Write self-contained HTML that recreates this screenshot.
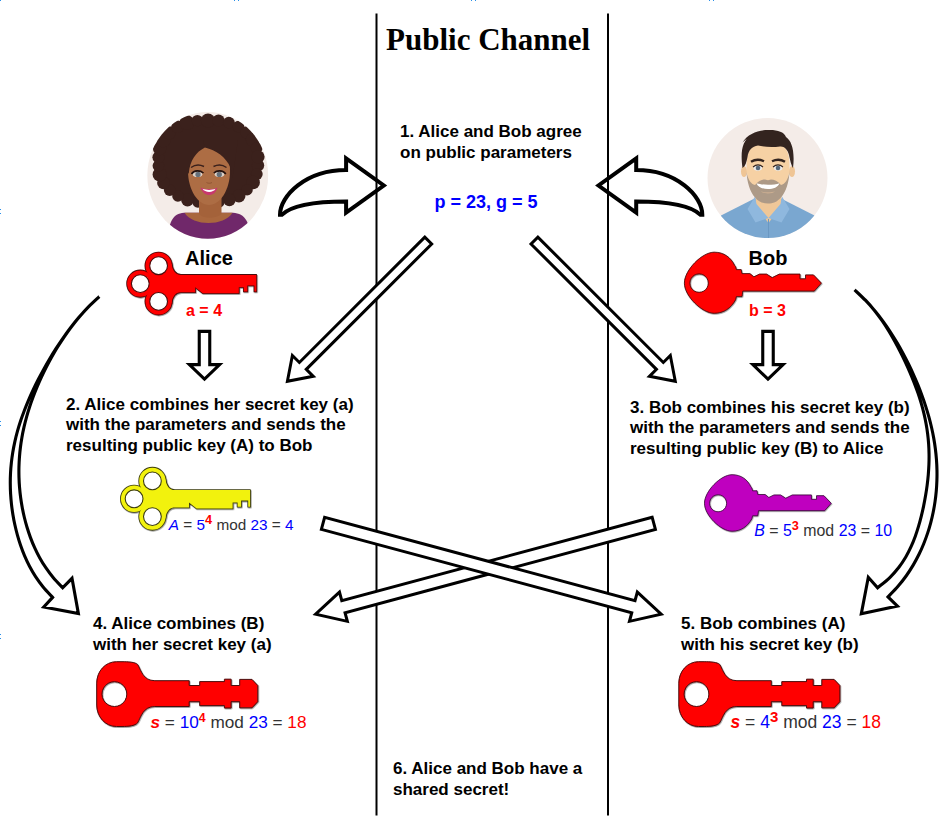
<!DOCTYPE html>
<html lang="en"><head><meta charset="utf-8"><title>Diffie-Hellman key exchange</title>
<style>html,body{margin:0;padding:0;background:#fff}svg{display:block}</style></head>
<body><svg width="944" height="828" viewBox="0 0 944 828">
<defs>
<filter id="sh" x="-10%" y="-10%" width="120%" height="130%"><feDropShadow dx="0.6" dy="0.8" stdDeviation="0.7" flood-color="#000" flood-opacity="0.45"/></filter>
</defs>
<rect width="944" height="828" fill="#fff"/>
<rect x="0" y="0" width="1" height="1" fill="#2b90e9"/><rect x="234" y="0" width="1" height="1" fill="#2b90e9"/><rect x="238" y="0" width="1" height="1" fill="#2b90e9"/><rect x="471" y="0" width="1" height="1" fill="#2b90e9"/><rect x="475" y="0" width="1" height="1" fill="#2b90e9"/><rect x="709" y="0" width="1" height="1" fill="#2b90e9"/><rect x="713" y="0" width="1" height="1" fill="#2b90e9"/><rect x="0" y="209" width="1" height="1" fill="#2b90e9"/><rect x="0" y="213" width="1" height="1" fill="#2b90e9"/><rect x="0" y="421" width="1" height="1" fill="#2b90e9"/><rect x="0" y="425" width="1" height="1" fill="#2b90e9"/><rect x="0" y="634" width="1" height="1" fill="#2b90e9"/><rect x="0" y="638" width="1" height="1" fill="#2b90e9"/>
<line x1="376.5" y1="13.4" x2="376.5" y2="815.5" stroke="#000" stroke-width="2"/>
<line x1="608" y1="13.4" x2="608" y2="815.5" stroke="#000" stroke-width="2"/>
<path d="M280.0,214.8 C280,196 305.5,170 346.1,170 L346.1,158.4 L383.8,185.5 L346.1,212.6 L346.1,201.4 C318,201.4 292,204.6 281.8,214.8 Z" fill="none" stroke="#000" stroke-width="4" stroke-linejoin="miter" stroke-miterlimit="10"/>
<path d="M702.3,214.8 C702.3,196 676.8,170 636.2,170 L636.2,158.4 L598.5,185.5 L636.2,212.6 L636.2,201.4 C664.3,201.4 690.3,204.6 700.5,214.8 Z" fill="none" stroke="#000" stroke-width="4" stroke-linejoin="miter" stroke-miterlimit="10"/>
<g fill="#fff" stroke="#000" stroke-linejoin="miter" stroke-miterlimit="10">
<polygon points="424.82,237.12 299.39,362.46 292.39,355.46 287.40,381.30 313.25,376.32 306.25,369.32 431.68,243.98" stroke-width="3.0"/>
<polygon points="531.02,243.98 656.45,369.32 649.45,376.32 675.30,381.30 670.31,355.46 663.31,362.46 537.88,237.12" stroke-width="3.0"/>
<polygon points="652.18,517.26 341.79,600.69 339.48,592.09 315.60,614.20 347.35,621.36 345.04,612.76 655.42,529.34" stroke-width="3.0"/>
<polygon points="321.38,529.34 631.76,612.76 629.45,621.36 661.20,614.20 637.32,592.09 635.01,600.69 324.62,517.26" stroke-width="3.0"/>
<polygon points="199.25,331.40 199.25,364.60 189.35,364.60 204.50,379.20 219.65,364.60 209.75,364.60 209.75,331.40" stroke-width="3.1"/>
<polygon points="762.75,331.40 762.75,364.60 752.85,364.60 768.00,379.20 783.15,364.60 773.25,364.60 773.25,331.40" stroke-width="3.1"/>
<path d="M99.29,296.6 C97.47,298.33 91.77,303.51 88.38,306.97 C84.99,310.43 81.90,313.88 78.93,317.34 C75.96,320.80 73.22,324.26 70.57,327.72 C67.92,331.18 65.44,334.63 63.03,338.09 C60.62,341.55 58.34,345.00 56.12,348.46 C53.90,351.92 51.78,355.37 49.72,358.83 C47.66,362.29 45.68,365.75 43.77,369.21 C41.86,372.67 40.01,376.12 38.24,379.58 C36.47,383.04 34.76,386.49 33.13,389.95 C31.50,393.41 29.94,396.86 28.46,400.32 C26.98,403.78 25.58,407.24 24.26,410.70 C22.94,414.16 21.70,417.61 20.56,421.07 C19.42,424.53 18.36,427.98 17.40,431.44 C16.44,434.90 15.58,438.35 14.81,441.81 C14.04,445.27 13.36,448.73 12.79,452.19 C12.22,455.65 11.75,459.10 11.37,462.56 C10.99,466.02 10.71,469.47 10.53,472.93 C10.35,476.39 10.27,479.84 10.28,483.30 C10.29,486.76 10.39,490.22 10.59,493.68 C10.79,497.14 11.08,500.59 11.46,504.05 C11.84,507.51 12.31,510.96 12.88,514.42 C13.45,517.88 14.10,521.33 14.86,524.79 C15.62,528.25 16.46,531.71 17.42,535.17 C18.38,538.63 19.44,542.08 20.64,545.54 C21.84,549.00 23.13,552.45 24.61,555.91 C26.09,559.37 27.68,562.82 29.51,566.28 C31.34,569.74 33.30,573.20 35.57,576.66 C37.84,580.12 40.29,583.57 43.13,587.03 C45.97,590.49 51.03,595.67 52.61,597.40 L43.8,606.9 L78.4,613.6 L72.0,578.3 L62.64,587.8 C61.09,586.13 56.15,581.11 53.34,577.76 C50.53,574.41 48.08,571.07 45.80,567.72 C43.52,564.37 41.52,561.03 39.65,557.68 C37.78,554.33 36.14,550.98 34.61,547.63 C33.08,544.28 31.73,540.94 30.48,537.59 C29.23,534.24 28.12,530.90 27.10,527.55 C26.08,524.20 25.18,520.86 24.37,517.51 C23.56,514.16 22.85,510.82 22.23,507.47 C21.61,504.12 21.08,500.78 20.63,497.43 C20.18,494.08 19.82,490.74 19.55,487.39 C19.28,484.04 19.09,480.69 18.99,477.34 C18.89,473.99 18.88,470.65 18.95,467.30 C19.02,463.95 19.18,460.61 19.43,457.26 C19.68,453.91 20.01,450.57 20.43,447.22 C20.85,443.87 21.36,440.53 21.95,437.18 C22.54,433.83 23.22,430.49 23.99,427.14 C24.75,423.79 25.61,420.45 26.54,417.10 C27.47,413.75 28.50,410.41 29.59,407.06 C30.68,403.71 31.86,400.36 33.11,397.01 C34.36,393.66 35.69,390.32 37.10,386.97 C38.51,383.62 39.99,380.28 41.55,376.93 C43.11,373.58 44.74,370.24 46.46,366.89 C48.18,363.54 49.96,360.20 51.84,356.85 C53.72,353.50 55.68,350.16 57.74,346.81 C59.80,343.46 61.95,340.12 64.23,336.77 C66.51,333.42 68.88,330.07 71.43,326.72 C73.98,323.37 76.63,320.03 79.51,316.68 C82.39,313.33 85.39,309.99 88.69,306.64 C91.99,303.29 97.53,298.27 99.30,296.60" stroke-width="3.1"/>
<path d="M854.63,289.9 C856.46,291.66 862.19,296.96 865.59,300.49 C868.99,304.02 872.08,307.54 875.02,311.07 C877.96,314.60 880.66,318.13 883.25,321.66 C885.84,325.19 888.24,328.71 890.55,332.24 C892.86,335.77 895.02,339.30 897.11,342.83 C899.20,346.36 901.17,349.89 903.07,353.42 C904.97,356.95 906.77,360.47 908.50,364.00 C910.23,367.53 911.88,371.06 913.46,374.59 C915.04,378.12 916.56,381.65 917.99,385.18 C919.42,388.71 920.78,392.23 922.07,395.76 C923.36,399.29 924.58,402.82 925.71,406.35 C926.84,409.88 927.90,413.40 928.87,416.93 C929.84,420.46 930.74,423.99 931.55,427.52 C932.36,431.05 933.09,434.58 933.72,438.11 C934.35,441.64 934.90,445.16 935.35,448.69 C935.80,452.22 936.17,455.75 936.44,459.28 C936.71,462.81 936.88,466.34 936.96,469.87 C937.04,473.40 937.02,476.92 936.90,480.45 C936.78,483.98 936.57,487.51 936.26,491.04 C935.95,494.57 935.54,498.09 935.03,501.62 C934.52,505.15 933.90,508.68 933.18,512.21 C932.46,515.74 931.64,519.27 930.70,522.80 C929.76,526.33 928.72,529.85 927.54,533.38 C926.36,536.91 925.07,540.44 923.63,543.97 C922.19,547.50 920.63,551.03 918.89,554.56 C917.15,558.09 915.27,561.61 913.17,565.14 C911.07,568.67 908.82,572.20 906.30,575.73 C903.77,579.26 901.06,582.78 898.02,586.31 C894.98,589.84 889.69,595.13 888.03,596.90 L897.4,606.1 L861.3,613.7 L868.3,577.3 L877.62,587.8 C879.65,586.09 886.26,580.95 889.81,577.53 C893.36,574.11 896.25,570.68 898.91,567.26 C901.57,563.84 903.75,560.40 905.78,556.98 C907.80,553.56 909.49,550.13 911.06,546.71 C912.63,543.29 913.97,539.86 915.22,536.44 C916.47,533.02 917.56,529.60 918.58,526.17 C919.61,522.74 920.52,519.31 921.37,515.89 C922.22,512.47 922.99,509.04 923.70,505.62 C924.41,502.20 925.04,498.77 925.62,495.35 C926.20,491.93 926.72,488.50 927.16,485.08 C927.60,481.65 927.98,478.23 928.27,474.80 C928.56,471.38 928.78,467.95 928.91,464.53 C929.04,461.11 929.10,457.68 929.05,454.26 C929.00,450.84 928.87,447.42 928.63,443.99 C928.39,440.56 928.06,437.13 927.63,433.71 C927.20,430.28 926.67,426.86 926.04,423.44 C925.41,420.02 924.67,416.59 923.85,413.17 C923.03,409.75 922.11,406.32 921.10,402.90 C920.09,399.47 918.99,396.05 917.81,392.62 C916.63,389.19 915.37,385.77 914.04,382.35 C912.71,378.93 911.29,375.50 909.82,372.08 C908.35,368.66 906.81,365.24 905.20,361.81 C903.59,358.38 901.92,354.95 900.17,351.53 C898.42,348.10 896.62,344.68 894.72,341.26 C892.82,337.84 890.86,334.41 888.75,330.99 C886.64,327.57 884.47,324.15 882.09,320.72 C879.71,317.30 877.24,313.87 874.47,310.44 C871.70,307.01 868.80,303.59 865.48,300.17 C862.16,296.75 856.39,291.61 854.57,289.90" stroke-width="3.1"/>
</g>

<g>
<clipPath id="ca"><ellipse cx="207.75" cy="175.4" rx="60.4" ry="63.3"/></clipPath>
<ellipse cx="207.75" cy="175.4" rx="60.4" ry="63.3" fill="#f4ece8"/>
<g clip-path="url(#ca)">
 <g fill="#3b211c"><ellipse cx="208.2" cy="161.3" rx="50.6" ry="41.8"/><circle cx="258.0" cy="165.4" r="6.2"/><circle cx="256.8" cy="174.1" r="5.9"/><circle cx="253.1" cy="182.4" r="6.8"/><circle cx="247.1" cy="189.8" r="5.7"/><circle cx="238.9" cy="195.8" r="6.6"/><circle cx="229.4" cy="199.9" r="6.3"/><circle cx="219.0" cy="202.0" r="5.7"/><circle cx="208.4" cy="202.1" r="6.5"/><circle cx="197.9" cy="202.0" r="5.7"/><circle cx="187.5" cy="200.0" r="6.4"/><circle cx="177.9" cy="196.0" r="5.7"/><circle cx="169.7" cy="190.1" r="5.8"/><circle cx="163.5" cy="182.8" r="6.4"/><circle cx="159.7" cy="174.5" r="7.1"/><circle cx="158.4" cy="165.8" r="5.8"/><circle cx="158.4" cy="157.2" r="6.0"/><circle cx="159.6" cy="148.5" r="6.7"/><circle cx="163.3" cy="140.2" r="7.3"/><circle cx="169.3" cy="132.8" r="6.6"/><circle cx="177.5" cy="126.8" r="6.3"/><circle cx="187.0" cy="122.7" r="7.4"/><circle cx="197.4" cy="120.6" r="5.7"/><circle cx="208.0" cy="120.5" r="7.1"/><circle cx="218.5" cy="120.6" r="6.1"/><circle cx="228.9" cy="122.6" r="5.9"/><circle cx="238.5" cy="126.6" r="5.8"/><circle cx="246.7" cy="132.5" r="6.2"/><circle cx="252.9" cy="139.8" r="7.1"/><circle cx="256.7" cy="148.1" r="5.9"/><circle cx="258.0" cy="156.8" r="6.6"/></g>
 <path d="M168,242 C168,224 172,213.500 184,212.800 L233,212.800 C246,213.500 250.500,224 250.500,242 Z" fill="#70286a"/>
 <path d="M184.500,212.800 C193,226.500 224,226.500 232.500,212.800 Z" fill="#a9673e"/>
 <path d="M199,196 L199,214 C203,219 216,219 221.500,214 L221.500,196 Z" fill="#a4623a"/>
 <path d="M188,171 C188,152 196,144 209,144 C222,144 230,152 230,171 C230,190 220,205 209,205 C198,205 188,190 188,171 Z" fill="#ad6d44"/>
 <path d="M184,178 L184,140 L206,140 L204.900,147.400 C196,152 190,160 188.800,173 Z" fill="#3b211c"/>
 <path d="M204.900,147.400 C216,150 226,157 230.500,167.500 L232.500,178 L238,140 L203,140 Z" fill="#3b211c"/>
 <ellipse cx="197.500" cy="174.300" rx="4.800" ry="2.800" fill="#ddd3ca"/><ellipse cx="219.500" cy="174.300" rx="4.800" ry="2.800" fill="#ddd3ca"/>
 <circle cx="198" cy="174.400" r="2.600" fill="#66707a"/><circle cx="219.300" cy="174.400" r="2.600" fill="#66707a"/>
 <path d="M191.500,174 C194,170 200,170 203.500,173" stroke="#24110e" stroke-width="1.600" fill="none"/>
 <path d="M213.800,173 C217,170 223,170 225.800,174" stroke="#24110e" stroke-width="1.600" fill="none"/>
 <path d="M191,167.500 C195,164.500 200,164.500 204,166.500" stroke="#3b211c" stroke-width="1.400" fill="none"/>
 <path d="M213.500,166.500 C217.500,164.500 222.500,164.500 226.500,167.500" stroke="#3b211c" stroke-width="1.400" fill="none"/>
 <path d="M200.500,187.500 C205,189.500 213,189.500 217.500,187.500 C215,197.500 203.500,197.500 200.500,187.500 Z" fill="#c8386e"/>
 <path d="M202.500,188.800 C206,190.300 212,190.300 215.500,188.800 C213.500,193 205,193 202.500,188.800 Z" fill="#ffffff"/>
 <path d="M206.500,182.500 C208,183.500 210.500,183.500 212,182.500" stroke="#8a5030" stroke-width="0.800" fill="none"/>
</g>
</g>

<g>
<clipPath id="cb"><circle cx="767.5" cy="178" r="60"/></clipPath>
<circle cx="767.5" cy="178" r="60" fill="#f4ece8"/>
<g clip-path="url(#cb)">
 <path d="M718,240 L721,215.500 L754.500,198.500 L781,198.500 L814.500,215.500 L818,240 Z" fill="#7aa7d0"/>
 <path d="M755.500,194 L755.500,206 L768.500,223 L781.500,206 L781.500,194 Z" fill="#efc798"/>
 <path d="M755,196.500 L747.500,209 L755.500,222.500 L768.500,218 L756.500,204 Z" fill="#8fb8de"/>
 <path d="M782,196.500 L789.500,209 L781.500,222.500 L768.500,218 L780.500,204 Z" fill="#8fb8de"/>
 <path d="M768.500,219 L768.500,240" stroke="#6b98c2" stroke-width="1"/>
 <ellipse cx="744" cy="171.500" rx="3" ry="5.500" fill="#efc595"/><ellipse cx="792" cy="171.500" rx="3" ry="5.500" fill="#efc595"/>
 <path d="M746.500,165 C746.500,150 752,141 768,141 C784,141 789.500,150 789.500,165 C789.500,183 782,203 768,203 C754,203 746.500,183 746.500,165 Z" fill="#f6d1a4"/>
 <path d="M746.500,172 C747,182 750,192 755,197.500 C759,202 763,203.500 768,203.500 C773,203.500 777,202 781,197.500 C786,192 789,182 789.500,172 C788,180 785,184 781,185 C778,181 774,179.500 771,179.500 L768,180.300 L765,179.500 C762,179.500 758,181 755,185 C751,184 748,180 746.500,172 Z" fill="#ad9a87"/>
 <path d="M756.500,183.200 C762,185.200 774,185.200 779.500,183.200 C777,191 759,191 756.500,183.200 Z" fill="#ffffff"/>
 <path d="M761,191.500 C765,192.500 771,192.500 775,191.500 C773,194 763,194 761,191.500 Z" fill="#d9b795" opacity="0.7"/>
 <path d="M742.500,168 C740,150 743,141 750,136 L742.500,142.500 C748,133 760,129.500 770,130 C778,130 784,132 786,137 C792,141 795,152 793,168 C791.500,166 790,160 789,155 C787.500,149 784,146 780,146.500 C772,147.500 764,147 758,145.500 C752,146.500 748.500,150 747.500,157 C746.500,162 745.500,166 742.500,168 Z" fill="#33241f"/>
 <path d="M751,161.800 C755,159.300 760,159.300 764,161.300" stroke="#33241f" stroke-width="2.400" fill="none"/>
 <path d="M772,161.300 C776,159.300 781,159.300 785,161.800" stroke="#33241f" stroke-width="2.400" fill="none"/>
 <ellipse cx="757.800" cy="168" rx="4.300" ry="2.700" fill="#ececec"/><ellipse cx="778.200" cy="168" rx="4.300" ry="2.700" fill="#ececec"/>
 <circle cx="758" cy="168" r="2.300" fill="#55677a"/><circle cx="778" cy="168" r="2.300" fill="#55677a"/>
 <path d="M753,167 C756,164.500 760,164.500 763,167" stroke="#33241f" stroke-width="1.100" fill="none"/>
 <path d="M773,167 C776,164.500 780,164.500 783,167" stroke="#33241f" stroke-width="1.100" fill="none"/>
</g>
</g>
<g transform="translate(0,0) scale(1)" filter="url(#sh)"><g fill="#ff0000" stroke="#4a0a0a" stroke-width="1.7" stroke-linejoin="round"><circle cx="158.6" cy="265.7" r="13.2"/><circle cx="140.3" cy="283.6" r="13.2"/><circle cx="158.6" cy="301.4" r="13.2"/><path d="M158.6,265.7 L171.6,264 C172.5,270 175,274.9 181,274.9 H256.3 V291.5 H254.4 V285.4 H247.3 V291.5 H243.8 V287.2 H238.8 V293.2 H202.8 L195.2,287.2 V292.2 H181 C175,292.2 172.500,297 171.600,303 L158.600,301.400 L140.300,283.600 Z"/></g><g fill="#ff0000"><circle cx="158.6" cy="265.7" r="13.2"/><circle cx="140.3" cy="283.6" r="13.2"/><circle cx="158.6" cy="301.4" r="13.2"/><path d="M158.6,265.7 L171.6,264 C172.5,270 175,274.9 181,274.9 H256.3 V291.5 H254.4 V285.4 H247.3 V291.5 H243.8 V287.2 H238.8 V293.2 H202.8 L195.2,287.2 V292.2 H181 C175,292.2 172.500,297 171.600,303 L158.600,301.400 L140.300,283.600 Z"/></g><g fill="#fff" stroke="#4a0a0a" stroke-width="1.1"><circle cx="158.6" cy="265.7" r="8.9"/><circle cx="140.3" cy="283.6" r="8.9"/><circle cx="158.6" cy="301.4" r="8.9"/></g></g>
<g transform="translate(-6.2,215.2) scale(1)" filter="url(#sh)"><g fill="#f2f20a" stroke="#3c3c10" stroke-width="1.7" stroke-linejoin="round"><circle cx="158.6" cy="265.7" r="13.2"/><circle cx="140.3" cy="283.6" r="13.2"/><circle cx="158.6" cy="301.4" r="13.2"/><path d="M158.6,265.7 L171.6,264 C172.5,270 175,274.9 181,274.9 H256.3 V291.5 H254.4 V285.4 H247.3 V291.5 H243.8 V287.2 H238.8 V293.2 H202.8 L195.2,287.2 V292.2 H181 C175,292.2 172.500,297 171.600,303 L158.600,301.400 L140.300,283.600 Z"/></g><g fill="#f2f20a"><circle cx="158.6" cy="265.7" r="13.2"/><circle cx="140.3" cy="283.6" r="13.2"/><circle cx="158.6" cy="301.4" r="13.2"/><path d="M158.6,265.7 L171.6,264 C172.5,270 175,274.9 181,274.9 H256.3 V291.5 H254.4 V285.4 H247.3 V291.5 H243.8 V287.2 H238.8 V293.2 H202.8 L195.2,287.2 V292.2 H181 C175,292.2 172.500,297 171.600,303 L158.600,301.400 L140.300,283.600 Z"/></g><g fill="#fff" stroke="#3c3c10" stroke-width="1.1"><circle cx="158.6" cy="265.7" r="8.9"/><circle cx="140.3" cy="283.6" r="8.9"/><circle cx="158.6" cy="301.4" r="8.9"/></g></g>
<g transform="translate(0,0) scale(1)" filter="url(#sh)"><path d="M734.8,265.7 L735.6,266.5 L736.4,269.6 H741.2 L742,273.6 H749.9 L753.9,276.8 L759.5,274.1 H766.6 L772.2,277.6 L779.3,274.1 H800 V278.8 H805.5 V274.9 H813.5 L821.4,283.1 L814.3,291.1 H742.8 L742,296.6 H736.4 L735.6,299.8 C731,308 724,313.3 714.2,313.3 C702,313.3 684.4,296 684.4,283.1 C684.4,270 702,252.2 714.2,252.2 C724,252.2 731,257.5 734.8,265.7 Z M699.1,273.9 a9.2,9.2 0 1 0 0.01,0 Z" fill="#ff0000" stroke="#4a0a0a" stroke-width="0.9" fill-rule="evenodd" stroke-linejoin="round"/></g>
<g transform="translate(71.42999999999995,241.415) scale(0.925)" filter="url(#sh)"><path d="M734.8,265.7 L735.6,266.5 L736.4,269.6 H741.2 L742,273.6 H749.9 L753.9,276.8 L759.5,274.1 H766.6 L772.2,277.6 L779.3,274.1 H800 V278.8 H805.5 V274.9 H813.5 L821.4,283.1 L814.3,291.1 H742.8 L742,296.6 H736.4 L735.6,299.8 C731,308 724,313.3 714.2,313.3 C702,313.3 684.4,296 684.4,283.1 C684.4,270 702,252.2 714.2,252.2 C724,252.2 731,257.5 734.8,265.7 Z M699.1,273.9 a9.2,9.2 0 1 0 0.01,0 Z" fill="#bf00bf" stroke="#3a0a3a" stroke-width="0.9" fill-rule="evenodd" stroke-linejoin="round"/></g>
<g transform="translate(0,0)" filter="url(#sh)"><path d="M137.7,664.5 C141,670 143,680.7 154.8,680.7 H189.2 V685.5 H199.7 V681.6 H224.4 V679.2 H231.1 V685.5 H239.7 V679.4 H252 L257.8,685.5 V701.7 L252,707.8 H239.7 V701.7 H231.1 V708 H224.4 V705.6 H199.7 V701.7 H189.2 V706.5 H154.8 C143,706.5 141,717 137.7,722.7 C135,726 128,726.5 122,726.5 L116.5,726.5 C105,726.5 96.7,716.5 96.7,705 L96.7,683.2 C96.7,671.5 105,661.7 116.5,661.7 L122,661.7 C128,661.7 135,662 137.7,664.5 Z M114.4,681.7 a12.4,12.4 0 1 0 0.01,0 Z" fill="#ff0000" stroke="#4a0a0a" stroke-width="1.0" fill-rule="evenodd" stroke-linejoin="round"/></g>
<g transform="translate(582.1,0)" filter="url(#sh)"><path d="M137.7,664.5 C141,670 143,680.7 154.8,680.7 H189.2 V685.5 H199.7 V681.6 H224.4 V679.2 H231.1 V685.5 H239.7 V679.4 H252 L257.8,685.5 V701.7 L252,707.8 H239.7 V701.7 H231.1 V708 H224.4 V705.6 H199.7 V701.7 H189.2 V706.5 H154.8 C143,706.5 141,717 137.7,722.7 C135,726 128,726.5 122,726.5 L116.5,726.5 C105,726.5 96.7,716.5 96.7,705 L96.7,683.2 C96.7,671.5 105,661.7 116.5,661.7 L122,661.7 C128,661.7 135,662 137.7,664.5 Z M114.4,681.7 a12.4,12.4 0 1 0 0.01,0 Z" fill="#ff0000" stroke="#4a0a0a" stroke-width="1.0" fill-rule="evenodd" stroke-linejoin="round"/></g>
<text x="386" y="50.3" font-family="'Liberation Serif', sans-serif" font-size="31" font-weight="bold" fill="#000" >Public Channel</text><text x="400" y="137" font-family="'Liberation Sans', sans-serif" font-size="17" font-weight="bold" fill="#000" >1. Alice and Bob agree</text><text x="400" y="158" font-family="'Liberation Sans', sans-serif" font-size="17" font-weight="bold" fill="#000" >on public parameters</text><text x="434.5" y="207.9" font-family="'Liberation Sans', sans-serif" font-size="18" font-weight="bold" fill="#0000ff" >p = 23, g = 5</text><text x="185.1" y="264.8" font-family="'Liberation Sans', sans-serif" font-size="20" font-weight="bold" fill="#000" >Alice</text><text x="748.6" y="264.8" font-family="'Liberation Sans', sans-serif" font-size="20" font-weight="bold" fill="#000" >Bob</text><text x="186" y="315.7" font-family="'Liberation Sans', sans-serif" font-size="16" font-weight="bold" fill="#ff0000" >a = 4</text><text x="749.1" y="315.7" font-family="'Liberation Sans', sans-serif" font-size="16" font-weight="bold" fill="#ff0000" >b = 3</text><text x="66" y="410.4" font-family="'Liberation Sans', sans-serif" font-size="17" font-weight="bold" fill="#000" >2. Alice combines her secret key (a)</text><text x="66" y="430.3" font-family="'Liberation Sans', sans-serif" font-size="17" font-weight="bold" fill="#000" >with the parameters and sends the</text><text x="66" y="451.2" font-family="'Liberation Sans', sans-serif" font-size="17" font-weight="bold" fill="#000" >resulting public key (A) to Bob</text><text x="630" y="413" font-family="'Liberation Sans', sans-serif" font-size="17" font-weight="bold" fill="#000" >3. Bob combines his secret key (b)</text><text x="630" y="433.4" font-family="'Liberation Sans', sans-serif" font-size="17" font-weight="bold" fill="#000" >with the parameters and sends the</text><text x="630" y="453.8" font-family="'Liberation Sans', sans-serif" font-size="17" font-weight="bold" fill="#000" >resulting public key (B) to Alice</text><text x="93" y="628.6" font-family="'Liberation Sans', sans-serif" font-size="17" font-weight="bold" fill="#000" >4. Alice combines (B)</text><text x="93" y="649.8" font-family="'Liberation Sans', sans-serif" font-size="17" font-weight="bold" fill="#000" >with her secret key (a)</text><text x="681" y="628.6" font-family="'Liberation Sans', sans-serif" font-size="17" font-weight="bold" fill="#000" >5. Bob combines (A)</text><text x="681" y="649.8" font-family="'Liberation Sans', sans-serif" font-size="17" font-weight="bold" fill="#000" >with his secret key (b)</text><text x="393" y="773.9" font-family="'Liberation Sans', sans-serif" font-size="17" font-weight="bold" fill="#000" >6. Alice and Bob have a</text><text x="393" y="795.1" font-family="'Liberation Sans', sans-serif" font-size="17" font-weight="bold" fill="#000" >shared secret!</text><text x="168.8" y="529.6" font-family="'Liberation Sans', sans-serif" font-size="15.33" xml:space="preserve"><tspan fill="#0000ff" font-style="italic">A</tspan><tspan fill="#333333" > = </tspan><tspan fill="#0000ff" >5</tspan><tspan fill="#ff0000" font-weight="bold" font-size="12.77" dy="-5.30">4</tspan><tspan fill="#333333"  dy="5.30"> mod </tspan><tspan fill="#0000ff" >23</tspan><tspan fill="#333333" > = </tspan><tspan fill="#0000ff" >4</tspan></text><text x="754.2" y="535.5" font-family="'Liberation Sans', sans-serif" font-size="15.9" xml:space="preserve"><tspan fill="#0000ff" font-style="italic">B</tspan><tspan fill="#333333" > = </tspan><tspan fill="#0000ff" >5</tspan><tspan fill="#ff0000" font-weight="bold" font-size="12.77" dy="-5.30">3</tspan><tspan fill="#333333"  dy="5.30"> mod </tspan><tspan fill="#0000ff" >23</tspan><tspan fill="#333333" > = </tspan><tspan fill="#0000ff" >10</tspan></text><text x="150.5" y="727.6" font-family="'Liberation Sans', sans-serif" font-size="17.2" xml:space="preserve"><tspan fill="#ff0000" font-style="italic" font-weight="bold">s</tspan><tspan fill="#333333" > = </tspan><tspan fill="#0000ff" >10</tspan><tspan fill="#ff0000" font-weight="bold" font-size="12.30" dy="-5.30">4</tspan><tspan fill="#333333"  dy="5.30"> mod </tspan><tspan fill="#0000ff" >23</tspan><tspan fill="#333333" > = </tspan><tspan fill="#ff0000" >18</tspan></text><text x="730.5" y="727.6" font-family="'Liberation Sans', sans-serif" font-size="17.5" xml:space="preserve"><tspan fill="#ff0000" font-style="italic" font-weight="bold">s</tspan><tspan fill="#333333" > = </tspan><tspan fill="#0000ff" >4</tspan><tspan fill="#ff0000" font-weight="bold" font-size="15.00" dy="-5.30">3</tspan><tspan fill="#333333"  dy="5.30"> mod </tspan><tspan fill="#0000ff" >23</tspan><tspan fill="#333333" > = </tspan><tspan fill="#ff0000" >18</tspan></text>
</svg></body></html>
